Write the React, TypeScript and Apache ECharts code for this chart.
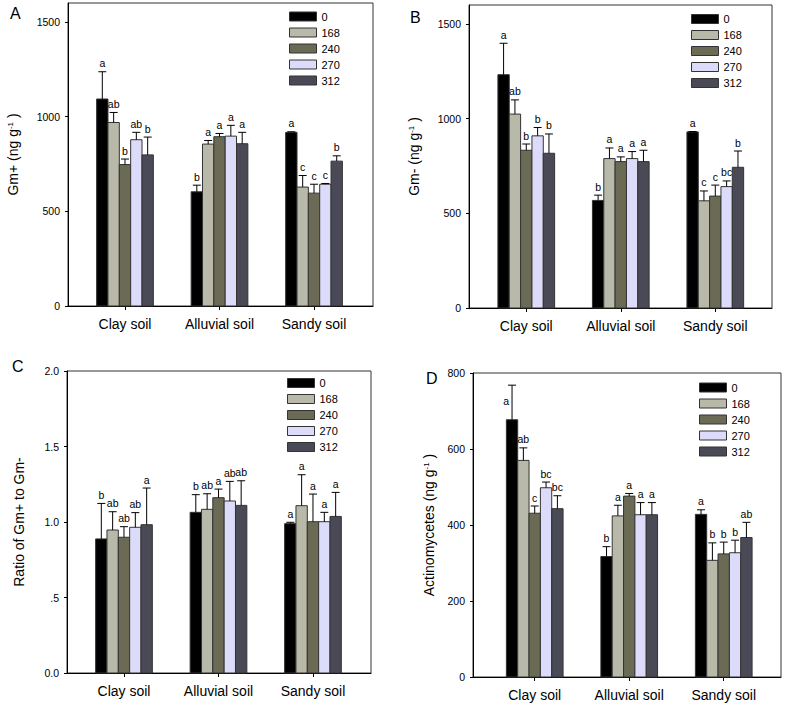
import React, { useEffect, useRef } from "react";
import * as echarts from "echarts";

const FONT = "'Liberation Sans', Arial, Helvetica, sans-serif";

const categories = ["Clay soil", "Alluvial soil", "Sandy soil"];
const doses = ["0", "168", "240", "270", "312"];
const doseColors = ["#000000", "#b9b9aa", "#6b6b55", "#dcdcfa", "#4a4a57"];

// Panel A: Gm+ (ng g-1), rows = doses, columns = soils
const gmPlusMeans = [
  [1093, 603, 917],
  [969, 855, 628],
  [747, 894, 596],
  [878, 897, 643],
  [798, 857, 765],
];
const gmPlusErr = [
  [144, 35, 3],
  [53, 19, 61],
  [29, 17, 47],
  [39, 57, 4],
  [94, 60, 28],
];
const gmPlusLetters = [
  ["a", "b", "a"],
  ["ab", "a", "c"],
  ["b", "a", "c"],
  ["ab", "a", "c"],
  ["b", "a", "b"],
];

// Panel B: Gm- (ng g-1)
const gmMinusMeans = [
  [1232, 568, 930],
  [1024, 789, 566],
  [833, 773, 591],
  [909, 789, 641],
  [817, 773, 743],
];
const gmMinusErr = [
  [166, 28, 2],
  [75, 56, 52],
  [33, 25, 58],
  [44, 37, 30],
  [102, 60, 86],
];
const gmMinusLetters = [
  ["a", "b", "a"],
  ["ab", "a", "c"],
  ["b", "a", "c"],
  ["b", "a", "bc"],
  ["b", "a", "b"],
];

// Panel C: ratio of Gm+ to Gm-
const ratioMeans = [
  [0.888, 1.064, 0.989],
  [0.947, 1.084, 1.108],
  [0.899, 1.161, 1.002],
  [0.965, 1.139, 1.002],
  [0.982, 1.11, 1.037],
];
const ratioErr = [
  [0.235, 0.117, 0.009],
  [0.121, 0.103, 0.205],
  [0.07, 0.057, 0.183],
  [0.097, 0.13, 0.062],
  [0.243, 0.163, 0.159],
];
const ratioLetters = [
  ["b", "b", "a"],
  ["ab", "ab", "a"],
  ["ab", "a", "a"],
  ["ab", "ab", "a"],
  ["a", "ab", "a"],
];

// Panel D: Actinomycetes (ng g-1)
const actinoMeans = [
  [677, 317, 428],
  [570, 424, 307],
  [431, 476, 324],
  [498, 427, 327],
  [443, 427, 367],
];
const actinoErr = [
  [91, 26, 12],
  [33, 28, 46],
  [19, 7, 31],
  [15, 32, 33],
  [34, 32, 40],
];
const actinoLetters = [
  ["a", "b", "a"],
  ["ab", "a", "b"],
  ["c", "a", "b"],
  ["bc", "a", "b"],
  ["bc", "a", "ab"],
];

const yTicksA = [0, 500, 1000, 1500];
const yTicksB = [0, 500, 1000, 1500];
const yTicksC = [0, 0.5, 1, 1.5, 2];
const yTicksD = [0, 200, 400, 600, 800];

const panels = [
  {
    tag: "A", means: gmPlusMeans, errs: gmPlusErr, letters: gmPlusLetters,
    yMax: 1600, yTicks: yTicksA, yName: "Gm+ (ng g{sup|-1} )",
    grid: { left: 68, top: 3, width: 305, height: 303 }, xMin: -0.603, xMax: 2.624,
    nameGap: 48, legend: { left: 289, top: 10.5 }, tagPos: [10, 5],
    fmt: (v: number) => String(v),
  },
  {
    tag: "B", means: gmMinusMeans, errs: gmMinusErr, letters: gmMinusLetters,
    yMax: 1600, yTicks: yTicksB, yName: "Gm- (ng g{sup|-1} )",
    grid: { left: 469, top: 5, width: 303, height: 303 }, xMin: -0.606, xMax: 2.6,
    nameGap: 48, legend: { left: 691, top: 13 }, tagPos: [410, 9],
    fmt: (v: number) => String(v),
  },
  {
    tag: "C", means: ratioMeans, errs: ratioErr, letters: ratioLetters,
    yMax: 2, yTicks: yTicksC, yName: "Ratio of Gm+ to Gm-",
    grid: { left: 67, top: 371, width: 304, height: 302 }, xMin: -0.603, xMax: 2.614,
    nameGap: 41, legend: { left: 287, top: 377 }, tagPos: [12, 358],
    fmt: (v: number) => (v === 0.5 ? ".5" : v.toFixed(1)),
  },
  {
    tag: "D", means: actinoMeans, errs: actinoErr, letters: actinoLetters,
    yMax: 800, yTicks: yTicksD, yName: "Actinomycetes (ng g{sup|-1} )",
    grid: { left: 473, top: 373, width: 308, height: 304 }, xMin: -0.653, xMax: 2.606,
    nameGap: 37, legend: { left: 699, top: 381.5 }, tagPos: [426, 370],
    fmt: (v: number) => String(v),
  },
];

const BW = 0.12;

function buildOption() {
  const grids: any[] = [];
  const xAxes: any[] = [];
  const yAxes: any[] = [];
  const legends: any[] = [];
  const series: any[] = [];
  const graphics: any[] = [];

  panels.forEach((p, k) => {
    grids.push({ ...p.grid, show: true, borderColor: "#333", borderWidth: 1, backgroundColor: "transparent" });
    xAxes.push({
      gridIndex: k, type: "value", min: p.xMin, max: p.xMax,
      splitLine: { show: false },
      axisLine: { show: true, onZero: false, lineStyle: { color: "#000", width: 1 } },
      axisTick: { show: true, customValues: [0, 1, 2], length: 4, lineStyle: { color: "#000" } },
      axisLabel: {
        customValues: [0, 1, 2], margin: 11, fontSize: 14, color: "#000", fontFamily: FONT,
        formatter: (v: number) => categories[Math.round(v)] ?? "",
      },
    });
    yAxes.push({
      gridIndex: k, type: "value", min: 0, max: p.yMax,
      name: p.yName, nameLocation: "middle", nameGap: p.nameGap, nameRotate: 90,
      nameTextStyle: {
        fontSize: 14, color: "#000", fontFamily: FONT,
        rich: { sup: { fontSize: 8, color: "#000", fontFamily: FONT, verticalAlign: "top", lineHeight: 9 } },
      },
      splitLine: { show: false },
      axisLine: { show: true, onZero: false, lineStyle: { color: "#000", width: 1 } },
      axisTick: { show: true, customValues: p.yTicks, length: 3, lineStyle: { color: "#000" } },
      axisLabel: {
        customValues: p.yTicks, margin: 8, fontSize: 10.5, color: "#000", fontFamily: FONT,
        formatter: p.fmt,
      },
    });
    legends.push({
      orient: "vertical", left: p.legend.left, top: p.legend.top, padding: 0,
      itemWidth: 27, itemHeight: 9, itemGap: 4, icon: "rect", selectedMode: false,
      data: doses,
      itemStyle: { borderColor: "#333", borderWidth: 1 },
      textStyle: { fontSize: 11, color: "#000", fontFamily: FONT, lineHeight: 12 },
    });
    graphics.push({
      type: "text", x: p.tagPos[0], y: p.tagPos[1],
      style: { text: p.tag, fontSize: 16, fontFamily: FONT, fill: "#000", verticalAlign: "top" },
    });

    doses.forEach((d, i) => {
      const letters = p.letters[i];
      series.push({
        type: "custom", name: d, xAxisIndex: k, yAxisIndex: k, clip: false, silent: true,
        itemStyle: { color: doseColors[i], borderColor: "#333", borderWidth: 1 },
        data: categories.map((_, c) => [c, p.means[i][c], p.errs[i][c]]),
        renderItem: (params: any, api: any) => {
          const c = api.value(0);
          const v = api.value(1);
          const e = api.value(2);
          const xl = c + (i - 2) * BW - BW / 2;
          const xr = xl + BW;
          const pTop = api.coord([xl, v]);
          const pBase = api.coord([xr, 0]);
          const xc = (pTop[0] + pBase[0]) / 2;
          const yE = api.coord([c, v + e])[1];
          const letter = letters[params.dataIndex];
          const gridTop = params.coordSys.y;
          const fits = yE - 3 - 12 >= gridTop;
          return {
            type: "group",
            children: [
              {
                type: "rect",
                shape: { x: pTop[0], y: pTop[1], width: pBase[0] - pTop[0], height: pBase[1] - pTop[1] },
                style: { fill: doseColors[i], stroke: "#333", lineWidth: 1 },
              },
              {
                type: "line",
                shape: { x1: xc, y1: pTop[1], x2: xc, y2: yE },
                style: { stroke: "#000", lineWidth: 1 },
              },
              {
                type: "line",
                shape: { x1: xc - 4, y1: yE, x2: xc + 4, y2: yE },
                style: { stroke: "#000", lineWidth: 1 },
              },
              {
                type: "text",
                x: fits ? xc : xc - 3,
                y: fits ? yE - 3 : yE + 16,
                style: {
                  text: letter, fontSize: 10.5, fontFamily: FONT, fill: "#000",
                  align: fits ? "center" : "right", verticalAlign: fits ? "bottom" : "middle",
                },
              },
            ],
          };
        },
      });
    });
  });

  return {
    animation: false,
    backgroundColor: "#fff",
    textStyle: { fontFamily: FONT },
    grid: grids,
    xAxis: xAxes,
    yAxis: yAxes,
    legend: legends,
    series,
    graphic: graphics,
  };
}

export default function App() {
  const ref = useRef<HTMLDivElement>(null);
  useEffect(() => {
    document.body.style.margin = "0";
    if (!ref.current) return;
    const chart = echarts.init(ref.current, null, { renderer: "svg" });
    chart.setOption(buildOption() as any);
    return () => chart.dispose();
  }, []);
  return <div ref={ref} style={{ width: 786, height: 707 }} />;
}
